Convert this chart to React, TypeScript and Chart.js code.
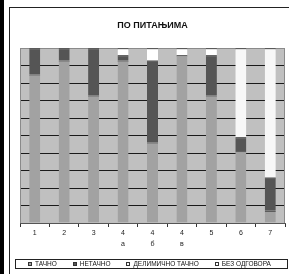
import React, { useEffect, useRef } from "react";
import { Chart, registerables } from "chart.js";

Chart.register(...registerables);

const categories: (string | string[])[] = ["1", "2", "3", ["4", "а"], ["4", "б"], ["4", "в"], "5", "6", "7"];
const tacno: (number | null)[] = [85, 93, 73, 93, 46, 96, 73, 41, 7];
const netacno: (number | null)[] = [15, 7, 27, 3, 47, null, 23, 8, 19];
const delimicno: (number | null)[] = [null, null, null, null, null, null, null, 51, 74];
const bezOdgovora: (number | null)[] = [null, null, null, 4, 7, 4, 4, null, null];
const seriesNames = ["ТАЧНО", "НЕТАЧНО", "ДЕЛИМИЧНО ТАЧНО", "БЕЗ ОДГОВОРА"];
const titleText = "ПО ПИТАЊИМА";

const FONT = "'Liberation Sans', Arial, sans-serif";

const plotBg = {
  id: "plotBg",
  beforeDraw(chart: any) {
    const { ctx, chartArea: a } = chart;
    ctx.save();
    ctx.fillStyle = "#c0c0c0";
    ctx.fillRect(a.left, a.top, a.right - a.left, a.bottom - a.top);
    ctx.restore();
  },
  afterDraw(chart: any) {
    const { ctx, chartArea: a } = chart;
    ctx.save();
    ctx.strokeStyle = "#8a8a8a";
    ctx.lineWidth = 1;
    ctx.beginPath();
    ctx.moveTo(a.left + 0.5, a.top);
    ctx.lineTo(a.left + 0.5, a.bottom);
    ctx.moveTo(a.right - 0.5, a.top);
    ctx.lineTo(a.right - 0.5, a.bottom);
    ctx.stroke();
    ctx.restore();
  },
};

const boxLegend = {
  id: "boxLegend",
  afterDraw(chart: any) {
    const ctx = chart.ctx;
    const left = 15.5, right = 287.5, top = 259.5, bottom = 268.5;
    ctx.save();
    ctx.strokeStyle = "#222";
    ctx.lineWidth = 1;
    ctx.strokeRect(left, top, right - left, bottom - top);
    ctx.font = `6.5px ${FONT}`;
    ctx.textBaseline = "middle";
    const ds = chart.data.datasets;
    const marker = 4;
    const mGap = 3;
    const gap = 16;
    const widths = ds.map((d: any) => marker + mGap + ctx.measureText(d.label).width);
    const total = widths.reduce((s: number, w: number) => s + w, 0) + gap * (ds.length - 1);
    let x = (left + right) / 2 - total / 2 - 2;
    const cy = (top + bottom) / 2;
    ds.forEach((d: any, i: number) => {
      ctx.fillStyle = d.backgroundColor;
      ctx.fillRect(Math.round(x), Math.round(cy - marker / 2), marker, marker);
      ctx.strokeStyle = "#333";
      ctx.strokeRect(Math.round(x) + 0.5, Math.round(cy - marker / 2) + 0.5, marker - 1, marker - 1);
      ctx.fillStyle = "#111";
      ctx.fillText(d.label, x + marker + mGap, cy);
      x += widths[i] + gap;
    });
    ctx.restore();
  },
};

export default function App() {
  const ref = useRef<HTMLCanvasElement>(null);
  useEffect(() => {
    if (!ref.current) return;
    const common = {
      borderColor: "#1e1e1e",
      borderWidth: { top: 1, left: 0, right: 0, bottom: 0 },
      borderSkipped: false,
      barPercentage: 0.75,
      categoryPercentage: 0.5,
    };
    const chart = new Chart(ref.current, {
      type: "bar",
      data: {
        labels: categories,
        datasets: [
          { label: seriesNames[0], data: tacno, backgroundColor: "#a2a2a2", ...common },
          { label: seriesNames[1], data: netacno, backgroundColor: "#555555", ...common },
          { label: seriesNames[2], data: delimicno, backgroundColor: "#f7f7f7", ...common },
          { label: seriesNames[3], data: bezOdgovora, backgroundColor: "#ffffff", ...common },
        ],
      } as any,
      options: {
        animation: false,
        responsive: false,
        maintainAspectRatio: false,
        layout: { padding: { left: 20, right: 4, top: 0, bottom: 15 } },
        plugins: {
          legend: { display: false },
          tooltip: { enabled: false },
          title: {
            display: true,
            text: titleText,
            color: "#111",
            font: { family: FONT, size: 9, weight: "bold" },
            padding: { top: 20, bottom: 17.4 },
          },
        },
        scales: {
          x: {
            stacked: true,
            grid: {
              offset: true,
              drawOnChartArea: false,
              drawTicks: true,
              tickLength: 4,
              color: "#333",
            },
            border: { display: true, color: "#555" },
            ticks: {
              color: "#222",
              font: { family: FONT, size: 7, lineHeight: 1.55 },
              padding: 1,
              maxRotation: 0,
              autoSkip: false,
            },
            afterFit: (s: any) => {
              s.height = 36;
            },
          },
          y: {
            stacked: true,
            min: 0,
            max: 100,
            ticks: { display: false, stepSize: 10 },
            grid: {
              color: (c: any) => (c.tick && c.tick.value === 100 ? "#8a8a8a" : "#1a1a1a"),
              lineWidth: 1,
              drawTicks: false,
            },
            border: { display: false },
            afterFit: (s: any) => {
              s.width = 0;
            },
          },
        },
      },
      plugins: [plotBg, boxLegend],
    } as any);
    return () => chart.destroy();
  }, []);

  return (
    <div style={{ position: "fixed", left: 0, top: 0, width: 289, height: 274, background: "#fff", overflow: "hidden" }}>
      <div style={{ position: "absolute", left: 0, top: 0, width: 4, height: 274, background: "#000" }} />
      <div
        style={{
          position: "absolute",
          left: 9,
          top: 7,
          width: 300,
          height: 300,
          borderLeft: "1px solid #222",
          borderTop: "1px solid #222",
        }}
      />
      <canvas ref={ref} width={289} height={274} style={{ position: "absolute", left: 0, top: 0, width: 289, height: 274 }} />
    </div>
  );
}
